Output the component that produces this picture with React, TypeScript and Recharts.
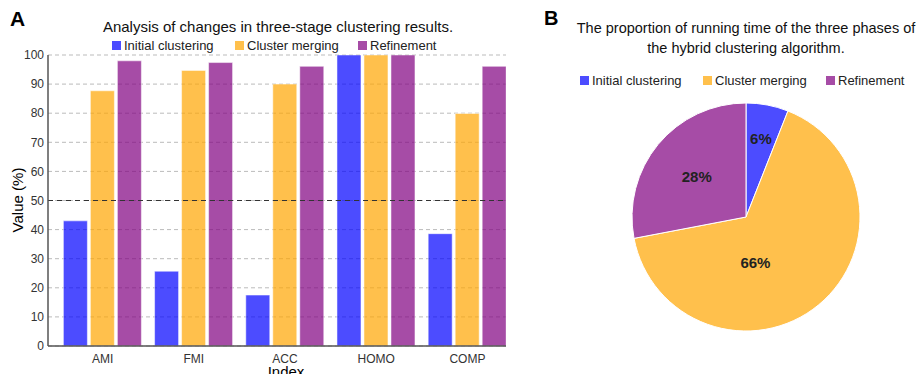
import React from "react";
import {
  Bar,
  BarChart,
  CartesianGrid,
  Cell,
  Pie,
  PieChart,
  ReferenceLine,
  XAxis,
  YAxis,
} from "recharts";

// metrics on the x axis
const categories = ["AMI", "FMI", "ACC", "HOMO", "COMP"];
// values (%) per clustering stage
const initialClustering = [43.0, 25.7, 17.5, 100, 38.6];
const clusterMerging = [87.7, 94.7, 90.0, 100, 79.9];
const refinement = [98.0, 97.4, 96.1, 100, 96.1];
const yTicks = [0, 10, 20, 30, 40, 50, 60, 70, 80, 90, 100];

// running time share (%) of the three phases
const phaseNames = ["Initial clustering", "Cluster merging", "Refinement"];
const runtimeShare = [6, 66, 28];

const COLORS = ["#0000ff", "#ffa500", "#800080"];
const FONT = '"Liberation Sans", Arial, sans-serif';

const barData = categories.map((name, i) => ({
  name,
  initial: initialClustering[i],
  merging: clusterMerging[i],
  refinement: refinement[i],
}));
const seriesKeys = ["initial", "merging", "refinement"];

const pieData = phaseNames.map((name, i) => ({ name, value: runtimeShare[i] }));

const LegendRow: React.FC<{ left: number; top: number }> = ({ left, top }) => (
  <div
    style={{
      position: "absolute",
      left,
      top,
      display: "flex",
      fontSize: 13,
      lineHeight: "15px",
      color: "#222",
    }}
  >
    {phaseNames.map((name, i) => (
      <div key={name} style={{ width: 123, display: "flex", alignItems: "center" }}>
        <span
          style={{
            display: "inline-block",
            width: 9,
            height: 9,
            background: COLORS[i],
            opacity: 0.7,
            marginRight: 3,
          }}
        />
        <span>{name}</span>
      </div>
    ))}
  </div>
);

const renderPieLabel = (props: any) => {
  const { cx, cy, midAngle, outerRadius, percent, value } = props;
  const RAD = Math.PI / 180;
  // big slices: label sits closer to the centre and leans towards the bottom
  const big = percent > 0.5;
  const k = percent < 0.1 ? 0.7 : big ? 0.41 : 0.56;
  const ang = big ? midAngle - 28 : midAngle;
  const r = outerRadius * k;
  const x = cx + r * Math.cos(-ang * RAD);
  const y = cy + r * Math.sin(-ang * RAD);
  return (
    <text
      x={x}
      y={y}
      textAnchor="middle"
      dominantBaseline="central"
      fontSize={15}
      fontWeight="bold"
      fill="#222"
      fontFamily={FONT}
    >
      {`${value}%`}
    </text>
  );
};

export default function App() {
  return (
    <div
      style={{
        position: "absolute",
        left: 0,
        top: 0,
        width: 919,
        height: 374,
        overflow: "hidden",
        background: "#fff",
        fontFamily: FONT,
      }}
    >
      {/* panel A */}
      <div style={{ position: "absolute", left: 10, top: 7, fontSize: 21, fontWeight: "bold" }}>A</div>
      <div
        style={{
          position: "absolute",
          left: 78,
          width: 400,
          top: 18,
          textAlign: "center",
          fontSize: 15,
          color: "#111",
        }}
      >
        Analysis of changes in three-stage clustering results.
      </div>
      <LegendRow left={112} top={38} />
      <div style={{ position: "absolute", left: 0, top: 0 }}>
        <BarChart
          width={506}
          height={374}
          data={barData}
          margin={{ top: 55, right: 0, bottom: 0, left: 0 }}
          barCategoryGap="7%"
          barGap={3}
        >
          <CartesianGrid vertical={false} stroke="#bbb" strokeDasharray="4 3" />
          <XAxis
            dataKey="name"
            height={28}
            padding={{ left: 9, right: -7 }}
            tickLine={false}
            axisLine={{ stroke: "#555", strokeWidth: 1.5 }}
            tick={{ fontSize: 12, fill: "#333", fontFamily: FONT }}
          />
          <YAxis
            width={48}
            domain={[0, 100]}
            ticks={yTicks}
            interval={0}
            tickLine={false}
            tickSize={2}
            axisLine={{ stroke: "#555", strokeWidth: 1.5 }}
            tick={{ fontSize: 12, fill: "#333", fontFamily: FONT }}
          />
          <ReferenceLine y={50} stroke="#333" strokeDasharray="5 4" />
          {seriesKeys.map((k, i) => (
            <Bar
              key={k}
              dataKey={k}
              fill={COLORS[i]}
              fillOpacity={0.7}
              stroke="#fff"
              strokeOpacity={0.5}
              strokeWidth={1}
              isAnimationActive={false}
            />
          ))}
        </BarChart>
      </div>
      <div
        style={{
          position: "absolute",
          left: 2,
          top: 189,
          width: 36,
          height: 22,
          transform: "rotate(-90deg)",
          transformOrigin: "18px 11px",
          fontSize: 15,
          textAlign: "center",
          whiteSpace: "nowrap",
          display: "flex",
          justifyContent: "center",
        }}
      >
        <span>Value (%)</span>
      </div>
      <div
        style={{
          position: "absolute",
          left: 236,
          width: 100,
          top: 363,
          textAlign: "center",
          fontSize: 15,
        }}
      >
        Index
      </div>

      {/* panel B */}
      <div style={{ position: "absolute", left: 544, top: 7, fontSize: 20, fontWeight: "bold" }}>B</div>
      <div
        style={{
          position: "absolute",
          left: 566,
          width: 360,
          top: 18,
          textAlign: "center",
          fontSize: 14.5,
          lineHeight: "20px",
          color: "#111",
        }}
      >
        The proportion of running time of the three phases of
        <br />
        the hybrid clustering algorithm.
      </div>
      <LegendRow left={580} top={73} />
      <div style={{ position: "absolute", left: 530, top: 0 }}>
        <PieChart width={389} height={374} margin={{ top: 0, right: 0, bottom: 0, left: 0 }}>
          <Pie
            data={pieData}
            dataKey="value"
            nameKey="name"
            cx={216}
            cy={217}
            outerRadius={114}
            startAngle={90}
            endAngle={-270}
            stroke="#fff"
            strokeWidth={1}
            labelLine={false}
            label={renderPieLabel}
            isAnimationActive={false}
          >
            {pieData.map((_, i) => (
              <Cell key={`cell-${i}`} fill={COLORS[i]} fillOpacity={0.7} />
            ))}
          </Pie>
        </PieChart>
      </div>
    </div>
  );
}
